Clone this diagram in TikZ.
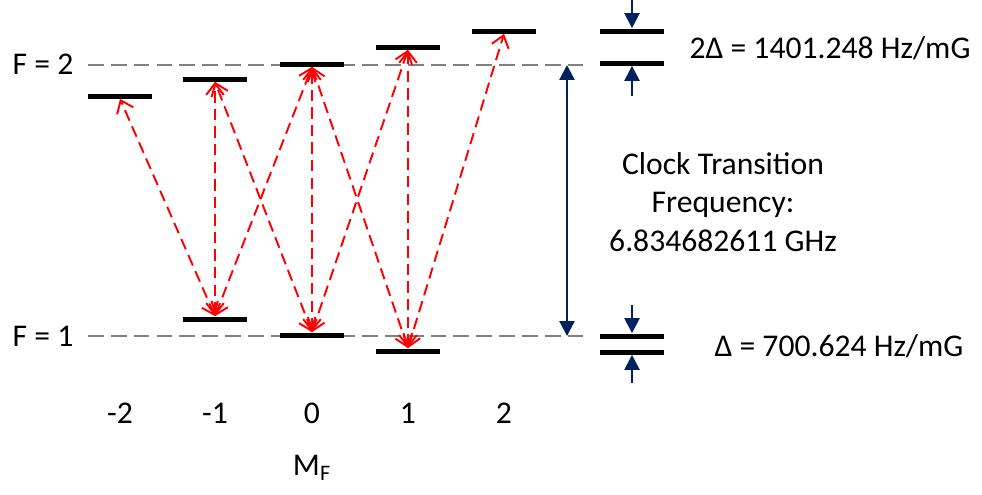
\documentclass[tikz,border=0pt]{standalone}
\usepackage{fontspec}
\setmainfont{Carlito}
\usetikzlibrary{arrows.meta}
\definecolor{SplitNavy}{RGB}{0,32,96}
\definecolor{TransRed}{RGB}{255,0,0}
\definecolor{GuideGray}{RGB}{128,128,128}
\tikzset{
  level/.style={fill=black, inner sep=0pt, minimum width=1.28cm, minimum height=0.1cm},
  trans/.style={TransRed, line width=1.1pt, dash pattern=on 6.5pt off 3.5pt,
    {Straight Barb[length=6.5pt,width=10pt]}-{Straight Barb[length=6.5pt,width=10pt]}},
  guide/.style={GuideGray, line width=1.2pt, dash pattern=on 9pt off 4pt},
  split/.style={SplitNavy, line width=1.3pt, -{Triangle[length=8.5pt,width=8.5pt]}},
  lbl/.style={font=\fontsize{18}{22}\selectfont, inner sep=0pt}
}
\begin{document}
\begin{tikzpicture}[x=0.02cm, y=-0.02cm]
    \useasboundingbox (0,0) rectangle (982,494);

    % guide lines for the two hyperfine levels
    \coordinate (g2l) at (88,65);
    \coordinate (g2r) at (588,65);
    \coordinate (g1l) at (88,336);
    \coordinate (g1r) at (588,336);
    \draw[guide] (g2l) -- (g2r);
    \draw[guide] (g1l) -- (g1r);

    \node[lbl] (f2) at (43,64) {F = 2};
    \node[lbl] (f1) at (43,336) {F = 1};

    % Zeeman sublevels
    \node[level] (a-2) at (120,96) {};
    \node[level] (a-1) at (215,79) {};
    \node[level] (a0) at (312,64) {};
    \node[level] (a1) at (408,47) {};
    \node[level] (a2) at (504,31) {};

    \node[level] (b-1) at (215,319) {};
    \node[level] (b0) at (312,335) {};
    \node[level] (b1) at (408,351) {};

    % transitions
    \draw[trans] (b-1.north) -- (a-2.south);
    \draw[trans] (b-1.north) -- (a-1.south);
    \draw[trans] (b-1.north) -- (a0.south);
    \draw[trans] (b0.north) -- (a-1.south);
    \draw[trans] (b0.north) -- (a0.south);
    \draw[trans] (b0.north) -- (a1.south);
    \draw[trans] (b1.north) -- (a0.south);
    \draw[trans] (b1.north) -- (a1.south);
    \draw[trans] (b1.north) -- (a2.south);

    % m_F axis
    \node[lbl] (m-2) at (120,413) {-2};
    \node[lbl] (m-1) at (215,413) {-1};
    \node[lbl] (m0) at (312,413) {0};
    \node[lbl] (m1) at (408,413) {1};
    \node[lbl] (m2) at (504,413) {2};
    \node[lbl] (mf) at (312,468) {M\textsubscript{F}};

    % clock transition
    \coordinate (ct) at (567,65);
    \coordinate (cb) at (567,336);
    \draw[split, {Triangle[length=8.5pt,width=8.5pt]}-{Triangle[length=8.5pt,width=8.5pt]}] (cb) -- (ct);
    \node[lbl, align=center, font=\fontsize{18}{21.8}\selectfont] (clock) at (723,202)
        {Clock Transition\\Frequency:\\6.834682611 GHz};

    % splitting per mG
    \node[level] (r2a) at (632,31) {};
    \node[level] (r2b) at (632,63) {};
    \node[level] (r1a) at (632,336) {};
    \node[level] (r1b) at (632,352) {};
    \coordinate (s2t) at (632,0);
    \coordinate (s2b) at (632,96);
    \coordinate (s1t) at (632,305);
    \coordinate (s1b) at (632,383);
    \draw[split] (s2t) -- (r2a.north);
    \draw[split] (s2b) -- (r2b.south);
    \draw[split] (s1t) -- (r1a.north);
    \draw[split] (s1b) -- (r1b.south);

    \node[lbl] (d2) at (830,48) {2Δ = 1401.248 Hz/mG};
    \node[lbl] (d1) at (839,346) {Δ = 700.624 Hz/mG};
\end{tikzpicture}
\end{document}
